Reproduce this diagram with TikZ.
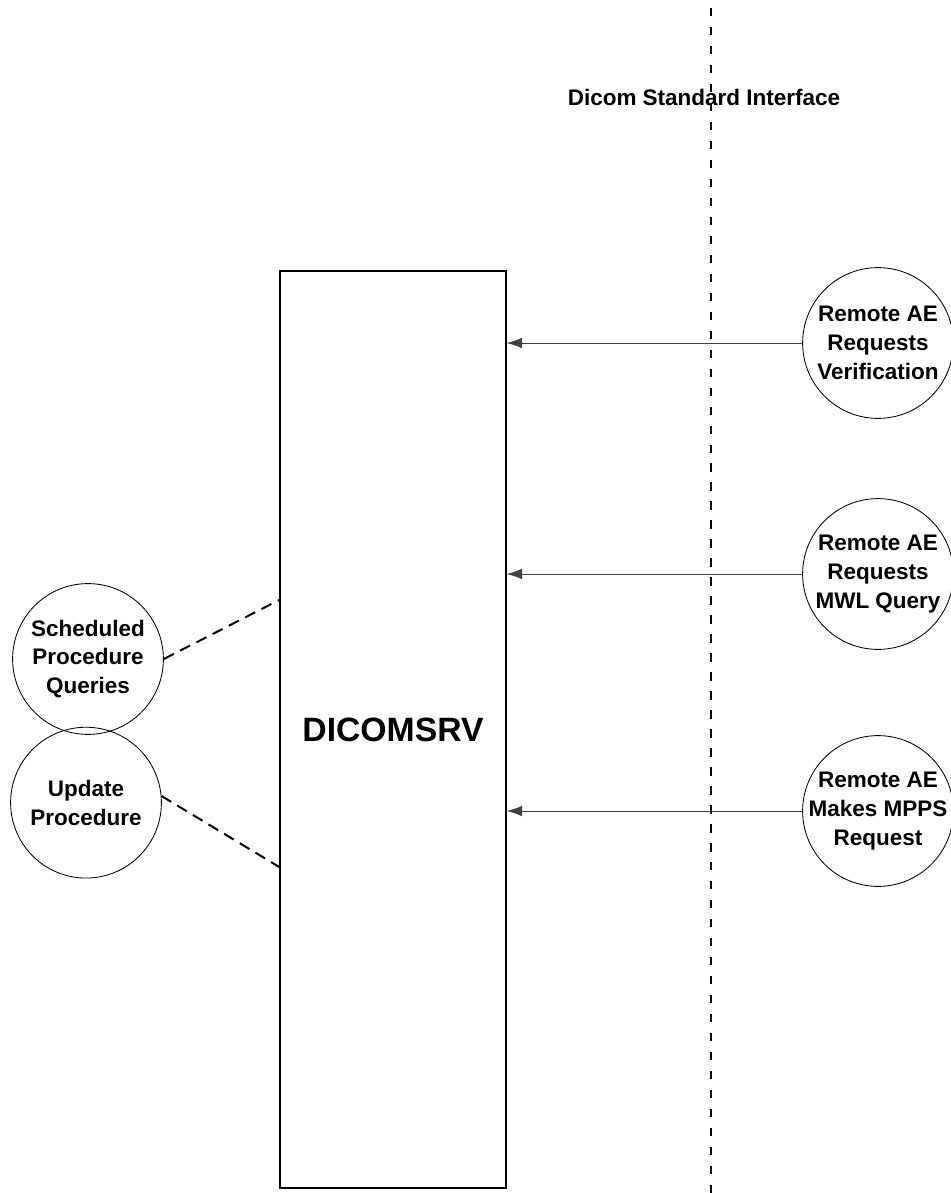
\documentclass[tikz,border=0pt]{standalone}
\usepackage{fontspec}
\setmainfont{Liberation Sans}
\usetikzlibrary{positioning, arrows.meta}

\begin{document}
\begin{tikzpicture}[
    box/.style={rectangle, draw, line width=0.8pt, minimum width=5.65cm, minimum height=22.925cm, font=\fontsize{24}{28}\selectfont\bfseries},
    ae/.style={circle, draw, line width=0.6pt, minimum size=3.77cm, inner xsep=-0.6cm, inner ysep=0pt, align=center, font=\fontsize{16}{20.5}\selectfont\bfseries},
    req/.style={draw=black!75, line width=0.7pt, -{Latex[length=11pt, width=7.5pt]}},
    link/.style={draw, line width=1.4pt, dash pattern=on 8pt off 5pt},
    border/.style={draw, line width=1.8pt, dash pattern=on 6pt off 7.5pt}
    ]

    \useasboundingbox (0,0) rectangle (23.75,-29.825);

    % Server
    \node [box] (srv) at (9.825,-18.2375) {DICOMSRV};

    % Remote AEs
    \node [ae] (verif) at (21.95,-8.575) {Remote AE\\Requests\\Verification};
    \node [ae] (mwl) at (21.95,-14.35) {Remote AE\\Requests\\MWL Query};
    \node [ae] (mpps) at (21.95,-20.275) {Remote AE\\Makes MPPS\\Request};

    % Local procedures
    \node [ae] (sched) at (2.2,-16.475) {Scheduled\\Procedure\\Queries};
    \node [ae, below=-0.2cm of sched, xshift=-0.05cm] (upd) {Update\\Procedure};

    % Requests
    \path [req] (verif.west) -- (verif.west -| srv.east);
    \path [req] (mwl.west) -- (mwl.west -| srv.east);
    \path [req] (mpps.west) -- (mpps.west -| srv.east);

    % Dashed links to the server
    \coordinate (q1) at ([yshift=3.24cm]srv.west);
    \coordinate (q2) at ([yshift=-3.44cm]srv.west);
    \path [link] (sched.east) -- (q1);
    \path [link] (upd.5) -- (q2);

    % Interface
    \node [font=\fontsize{16}{20}\selectfont\bfseries] (iface) at (17.6,-2.425) {Dicom Standard Interface};
    \coordinate (ifTop) at (17.775,-0.2);
    \coordinate (ifBot) at (17.775,-29.825);
    \path [border] (ifTop) -- (ifBot);

\end{tikzpicture}
\end{document}
